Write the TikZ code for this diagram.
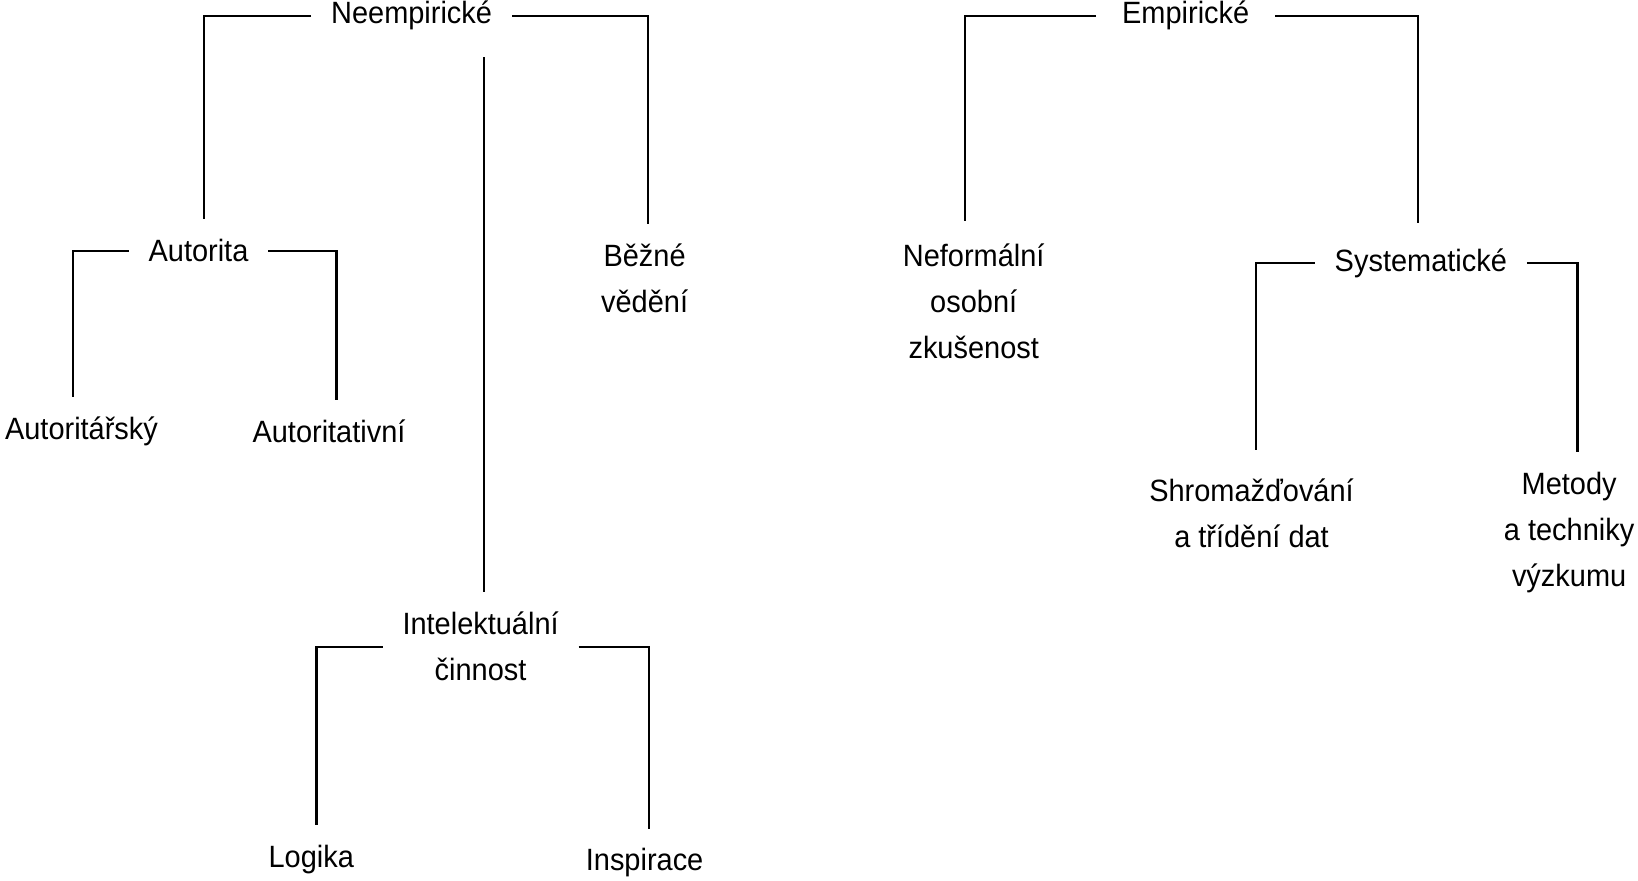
\documentclass[tikz,border=0pt]{standalone}
\usepackage{fontspec}
\setmainfont{Liberation Sans}[FakeStretch=0.94]
\usetikzlibrary{positioning}
\begin{document}
\begin{tikzpicture}[x=0.5pt,y=-0.5pt,
	term/.style={align=center,inner xsep=10pt,inner ysep=10pt,outer sep=0pt,font=\fontsize{15.4}{23}\selectfont},
	branch/.style={line width=1.1pt}]
	\useasboundingbox (0,0) rectangle (1638,880);
	\node[term] (neemp) at (411.6,15.6) {Neempirické};
	\node[term] (autorita) at (198.5,250.7) {Autorita};
	\node[term] (autoritar) at (81.5,431.4) {Autoritářský};
	\node[term] (autoritat) at (329,431.4) {Autoritativní};
	\node[term] (bezne) at (644.6,278.4) {Běžné\\vědění};
	\node[term] (intel) at (480.6,646.6) {Intelektuální\\činnost};
	\node[term] (logika) at (311.3,859.7) {Logika};
	\node[term] (inspir) at (644.6,862.9) {Inspirace};
	\node[term,inner xsep=13pt] (emp) at (1185.7,15.6) {Empirické};
	\node[term] (neform) at (973.7,301.5) {Neformální\\osobní\\zkušenost};
	\node[term] (system) at (1420.8,263.2) {Systematické};
	\node[term] (shrom) at (1251.5,512.9) {Shromažďování\\a třídění dat};
	\node[term] (metody) at (1569.1,532.7) {Metody\\a techniky\\výzkumu};
	\draw[branch] (neemp.west) -| ([xshift=2.6pt]autorita.north);
	\draw[branch] (neemp.east) -| ([xshift=1.5pt]bezne.north);
	\draw[branch,shorten <=3.5pt] ([xshift=1.5pt]intel.north |- neemp.south) -- ([xshift=1.5pt]intel.north);
	\draw[branch] (autorita.west) -| ([xshift=-4.2pt]autoritar.north);
	\draw[branch] (autorita.east) -| ([xshift=3.7pt]autoritat.north);
	\draw[branch] (intel.west) -| ([xshift=2.6pt]logika.north);
	\draw[branch] (intel.east) -| ([xshift=2.1pt]inspir.north);
	\draw[branch,shorten >=1.5pt] (emp.west) -| ([xshift=-4.2pt]neform.north);
	\draw[branch,shorten >=3pt] (emp.east) -| ([xshift=-1.5pt]system.north);
	\draw[branch,shorten >=4pt] (system.west) -| ([xshift=2.1pt]shrom.north);
	\draw[branch] (system.east) -| ([xshift=4.2pt]metody.north);
\end{tikzpicture}
\end{document}
